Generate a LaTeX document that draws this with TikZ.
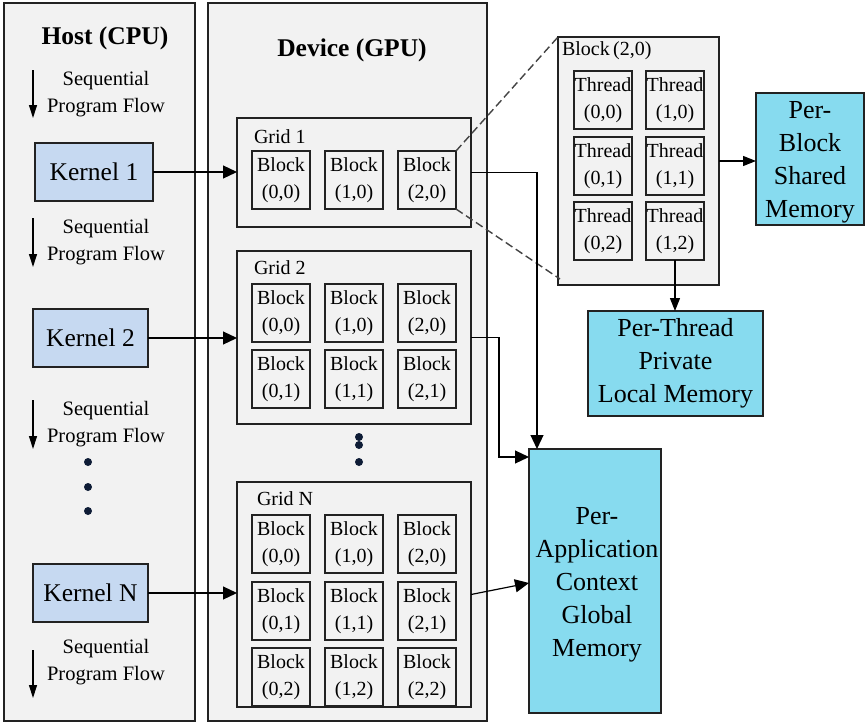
\documentclass[tikz,border=0pt]{standalone}
\usepackage{fontspec}
\setmainfont{Liberation Serif}
\usetikzlibrary{arrows.meta}

\definecolor{panel}{HTML}{F2F2F2}
\definecolor{kernelblue}{HTML}{C6D9F1}
\definecolor{memcyan}{HTML}{87DBEF}
\definecolor{edge}{HTML}{222222}
\definecolor{dotblue}{HTML}{0E1C36}

\begin{document}
\begin{tikzpicture}[x=1pt,y=-1pt,
  every node/.style={inner sep=0pt, outer sep=0pt},
  panelbox/.style={draw=edge, fill=panel, line width=1.2pt, anchor=north west},
  cell/.style={draw=edge, fill=panel, line width=1.2pt, anchor=north west,
    minimum width=58pt, minimum height=58pt, align=center,
    font=\fontsize{20}{27}\selectfont},
  kernel/.style={draw=edge, fill=kernelblue, line width=1.2pt, anchor=north west,
    font=\fontsize{25.5}{30}\selectfont},
  memory/.style={draw=edge, fill=memcyan, line width=1.2pt, anchor=north west,
    align=center, font=\fontsize{26}{33}\selectfont},
  memtext/.style={anchor=center, align=center, font=\fontsize{26}{33}\selectfont},
  title/.style={font=\fontsize{25.5}{30}\selectfont\bfseries},
  flowtext/.style={align=center, font=\fontsize{20.5}{26.5}\selectfont},
  label/.style={anchor=base west, font=\fontsize{20}{24}\selectfont},
  arr/.style={draw=black, line width=1.2pt, -{Triangle[length=14pt,width=13pt]}},
  smallarr/.style={draw=black, line width=1.2pt, -{Triangle[length=13pt,width=10pt]}},
  flowarr/.style={draw=black, line width=1.2pt, -{Triangle[length=13pt,width=8pt]}},
  zoomline/.style={draw=edge!85, line width=1.4pt, dash pattern=on 8pt off 4pt},
  dot/.style={circle, fill=dotblue, minimum size=8pt},
]
\useasboundingbox (0,0) rectangle (865,723);

% ---------------- host side ----------------
\node[panelbox, minimum width=191pt, minimum height=718pt] (host) at (4,3) {};
\node[title] (hosttitle) at (105,38) {Host (CPU)};

\node[kernel, minimum width=118pt, minimum height=58pt] (k1) at (35,143) {Kernel 1};
\node[kernel, minimum width=115pt, minimum height=58pt] (k2) at (33,309) {Kernel 2};
\node[kernel, minimum width=115pt, minimum height=58pt] (kN) at (33,564) {Kernel N};

\node[flowtext] (flow1) at (106,94) {Sequential\\Program Flow};
\node[flowtext] (flow2) at (106,242) {Sequential\\Program Flow};
\node[flowtext] (flow3) at (106,424) {Sequential\\Program Flow};
\node[flowtext] (flow4) at (106,662) {Sequential\\Program Flow};

\coordinate (f1a) at (33,70);  \coordinate (f1b) at (33,118);
\coordinate (f2a) at (33,218); \coordinate (f2b) at (33,267);
\coordinate (f3a) at (33,400); \coordinate (f3b) at (33,449);
\coordinate (f4a) at (33,650); \coordinate (f4b) at (33,698);
\draw[flowarr] (f1a) -- (f1b);
\draw[flowarr] (f2a) -- (f2b);
\draw[flowarr] (f3a) -- (f3b);
\draw[flowarr] (f4a) -- (f4b);

\node[dot] (hd1) at (88,462) {};
\node[dot] (hd2) at (88,487) {};
\node[dot] (hd3) at (88,511) {};

% ---------------- device side ----------------
\node[panelbox, minimum width=279pt, minimum height=718pt] (device) at (208,3) {};
\node[title] (devtitle) at (352,50) {Device (GPU)};

% Grid 1
\node[panelbox, minimum width=234pt, minimum height=109pt] (grid1) at (237,118) {};
\node[label] (grid1lbl) at (254,143) {Grid 1};
\foreach \i/\x in {0/252,1/325,2/398}{
  \node[cell] (g1b\i0) at (\x,151) {Block\\(\i,0)};
}

% Grid 2
\node[panelbox, minimum width=234pt, minimum height=173pt] (grid2) at (237,251) {};
\node[label] (grid2lbl) at (254,274) {Grid 2};
\foreach \j/\y in {0/284,1/350}{
  \foreach \i/\x in {0/252,1/325,2/398}{
    \node[cell] (g2b\i\j) at (\x,\y) {Block\\(\i,\j)};
  }
}

% vertical ellipsis between grids
\node[dot] (dd1) at (359,437) {};
\node[dot] (dd2) at (359,445) {};
\node[dot] (dd3) at (359,462) {};

% Grid N
\node[panelbox, minimum width=234pt, minimum height=225pt] (gridN) at (237,482) {};
\node[label] (gridNlbl) at (257,505) {Grid N};
\foreach \j/\y in {0/515,1/582,2/648}{
  \foreach \i/\x in {0/252,1/325,2/398}{
    \node[cell] (gNb\i\j) at (\x,\y) {Block\\(\i,\j)};
  }
}
% the bottom row is cut off by the grid frame
\draw[edge, line width=1.2pt] (gridN.south west) -- (gridN.south east);

% ---------------- block detail ----------------
\node[panelbox, minimum width=161pt, minimum height=248pt] (detail) at (558,37) {};
\node[label] (detaillbl) at (562,55) {Block\,(2,0)};
\foreach \j/\y in {0/71,1/137,2/202}{
  \foreach \i/\x in {0/574,1/646}{
    \node[cell] (t\i\j) at (\x,\y) {Thread\\(\i,\j)};
  }
}
\draw[zoomline] (g1b20.north east) -- (detail.north west);
\draw[zoomline] (g1b20.south east) -- ([xshift=2pt,yshift=6pt]detail.south west);

% ---------------- memories ----------------
\node[memory, minimum width=108pt, minimum height=132pt] (shared) at (756,93) {};
\node[memtext] (sharedtxt) at ([yshift=-3pt]shared.center)
  {Per-\\Block\\Shared\\Memory};
\node[memory, minimum width=175pt, minimum height=105pt] (local) at (588,311)
  {Per-Thread\\Private\\Local Memory};
\node[memory, minimum width=132pt, minimum height=264pt] (global) at (529,449) {};
\node[memtext] (globaltxt) at ([xshift=2pt,yshift=-4pt]global.center)
  {Per-\\Application\\Context\\Global\\Memory};

% ---------------- connectors ----------------
\draw[arr] (k1.east) -- (k1.east -| grid1.west);
\draw[arr] (k2.east) -- (k2.east -| grid2.west);
\draw[arr] (kN.east) -- (kN.east -| gridN.west);

\draw[smallarr] (detail.east) -- (detail.east -| shared.west);
\draw[smallarr] (t12.south) -- (t12.south |- local.north);

\draw[arr] (grid1.east) -| ([xshift=8pt]global.north west);
\draw[arr] (grid2.east) -- ++(28,0) |- ([yshift=-8pt]global.north west);
\draw[arr] (gridN.east) -- ([yshift=-2pt]global.west);
\end{tikzpicture}
\end{document}
